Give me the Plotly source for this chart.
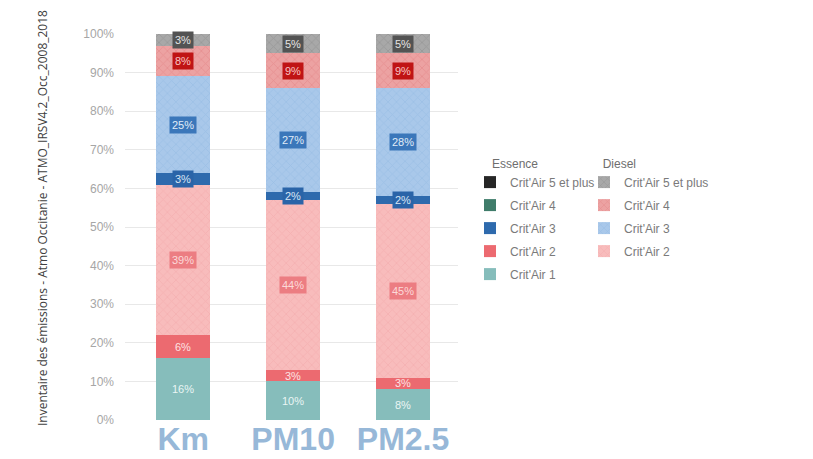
import plotly.graph_objects as go

categories = ["Km", "PM10", "PM2.5"]

# Values in % (stack order, bottom to top)
ess_c1 = [16, 10, 8]
ess_c2 = [6, 3, 3]
die_c2 = [39, 44, 45]
ess_c3 = [3, 2, 2]
die_c3 = [25, 27, 28]
ess_c4 = [0, 0, 0]
die_c4 = [8, 9, 9]
ess_c5 = [0, 0, 0]
die_c5 = [3, 5, 5]

y_ticks = [i / 10 for i in range(11)]

series = [
    # name, values, legend, rank, color, pattern fg, label box, label text
    ("Crit'Air 1", ess_c1, "legend", 5, "#86bdbb", None, None, "#eaf5f4"),
    ("Crit'Air 2", ess_c2, "legend", 4, "#ec6a70", None, None, "#fde3e3"),
    ("Crit'Air 2", die_c2, "legend2", 4, "#f8bcbc", "#f2a4a6", "#ec7d82", "#fcd9d9"),
    ("Crit'Air 3", ess_c3, "legend", 3, "#2e6aad", None, "#2a64a8", "#d6e5f5"),
    ("Crit'Air 3", die_c3, "legend2", 3, "#a9c8ea", "#8fb6e0", "#3b77ba", "#e0ecf8"),
    ("Crit'Air 4", ess_c4, "legend", 2, "#3f7c6a", None, None, "#ffffff"),
    ("Crit'Air 4", die_c4, "legend2", 2, "#eca2a2", "#e07c7e", "#c01414", "#f7c4c4"),
    ("Crit'Air 5 et plus", ess_c5, "legend", 1, "#262626", None, None, "#ffffff"),
    ("Crit'Air 5 et plus", die_c5, "legend2", 1, "#a8a8a8", "#888888", "#535353", "#e4e4e4"),
]

LBL_FONT = "Liberation Sans, Arial, sans-serif"

fig = go.Figure()
annotations = []
cum = [0.0, 0.0, 0.0]
for i, (name, vals, leg, rank, col, fg, box, txtcol) in enumerate(series):
    yv = [v / 100 for v in vals]
    marker = dict(color=col, line=dict(width=0))
    if fg is not None:
        marker["pattern"] = dict(shape="x", fgcolor=fg, bgcolor=col, size=6, solidity=0.25)
    fig.add_trace(go.Bar(
        x=categories, y=yv, name=name, legend=leg, legendgroup="g%d" % i,
        legendrank=rank, marker=marker, width=0.49, hoverinfo="skip",
    ))
    for j, v in enumerate(yv):
        if v > 0:
            annotations.append(dict(
                x=categories[j], y=cum[j] + v / 2, xref="x", yref="y",
                text="%d%%" % vals[j], showarrow=False,
                font=dict(family=LBL_FONT, size=11, color=txtcol),
                bgcolor=box if box else "rgba(0,0,0,0)", borderpad=2,
            ))
        cum[j] += v

annotations.append(dict(
    x=-0.2462, y=-0.0207, xref="paper", yref="paper", textangle=-90,
    xanchor="center", yanchor="bottom",
    text="Inventaire des émissions - Atmo Occitanie - ATMO_IRSV4.2_Occ_2008_2018",
    showarrow=False, font=dict(family="Open Sans", size=12, color="#404040"),
))

W, H = 805, 451

legend_common = dict(
    xref="container", yref="container", xanchor="left", yanchor="top",
    traceorder="grouped", tracegroupgap=4, bgcolor="rgba(0,0,0,0)",
    font=dict(family=LBL_FONT, size=12, color="#7a7a7a"),
)

fig.update_layout(
    width=W, height=H,
    margin=dict(l=117, r=355, t=26, b=39),
    paper_bgcolor="white", plot_bgcolor="white",
    barmode="stack",
    font=dict(family=LBL_FONT),
    annotations=annotations,
    legend=dict(
        title=dict(text="&nbsp;" * 6 + "Essence", font=dict(size=12, color="#6e6e6e")),
        x=462 / W, y=1 - 144 / H, **legend_common,
    ),
    legend2=dict(
        title=dict(text="&nbsp;" * 5 + "Diesel", font=dict(size=12, color="#6e6e6e")),
        x=576 / W, y=1 - 144 / H, **legend_common,
    ),
)

fig.update_xaxes(
    range=[-0.53, 2.5], showgrid=False, zeroline=False, showline=False,
    tickfont=dict(family=LBL_FONT, size=32, color="#97b8d8", weight="bold"),
    ticklabelstandoff=-3, automargin=False,
)
fig.update_yaxes(
    range=[0, 1], tickvals=y_ticks, tickformat=".0%",
    showgrid=True, gridcolor="#e8e8e8", gridwidth=1, zeroline=False, showline=False,
    tickfont=dict(size=12, color="#a6a6a6"), ticklabelstandoff=10, automargin=False,
)

fig.write_html("out.html")
